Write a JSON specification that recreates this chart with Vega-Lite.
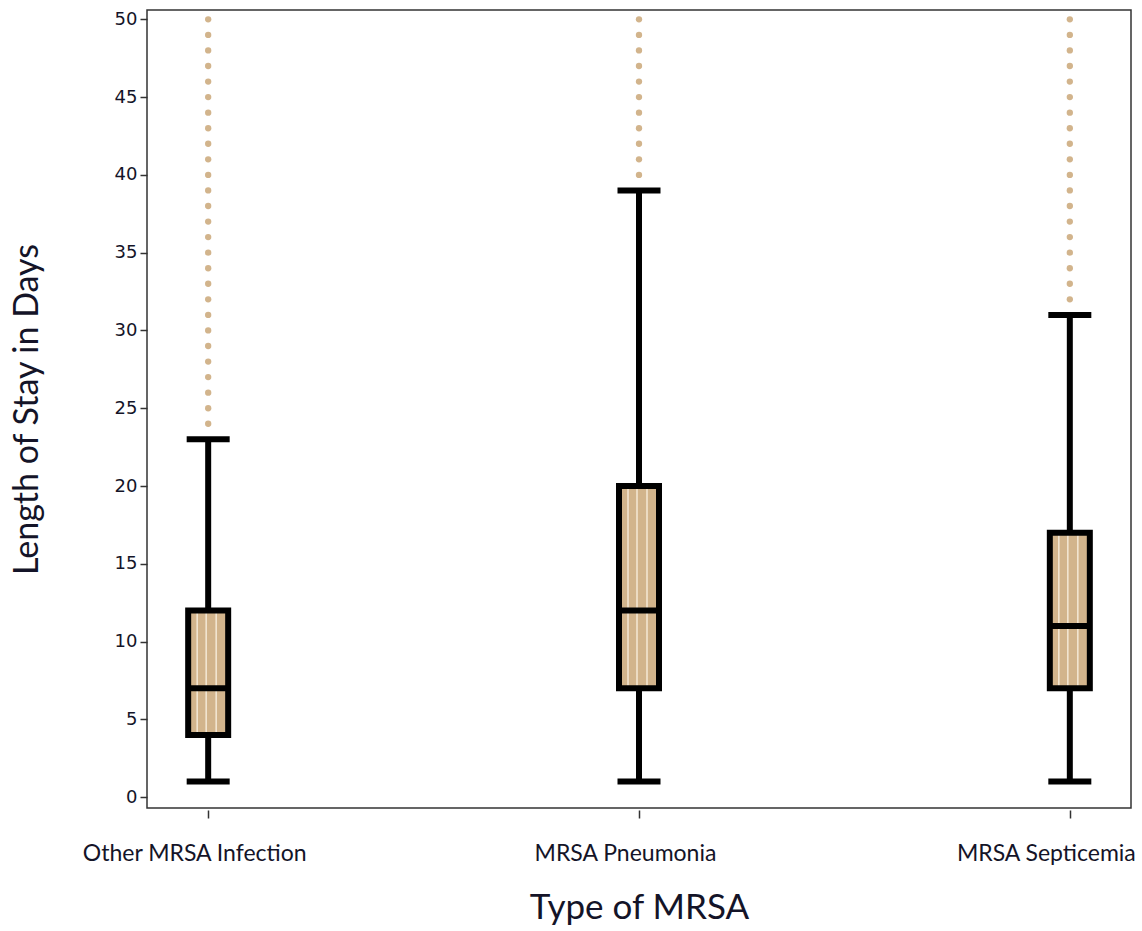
{
  "$schema": "https://vega.github.io/schema/vega-lite/v6.json",
  "autosize": {"type": "none"},
  "width": 984,
  "height": 798,
  "padding": {"left": 147, "top": 10, "right": 11, "bottom": 123},
  "background": "white",
  "config": {
    "view": {"stroke": "#333333", "strokeWidth": 1.5},
    "axis": {"grid": false, "domain": false, "tickColor": "#333333", "tickWidth": 1.5, "labelColor": "#141428", "titleColor": "#141428", "titleFontWeight": "normal"}
  },
  "datasets": {
    "boxes": [
      {"type": "Other MRSA Infection", "min": 1, "q1": 4, "median": 7, "q3": 12, "max": 23},
      {"type": "MRSA Pneumonia", "min": 1, "q1": 7, "median": 12, "q3": 20, "max": 39},
      {"type": "MRSA Septicemia", "min": 1, "q1": 7, "median": 11, "q3": 17, "max": 31}
    ],
    "outliers": [
      {"type": "Other MRSA Infection", "los": 24}, {"type": "Other MRSA Infection", "los": 25}, {"type": "Other MRSA Infection", "los": 26},
      {"type": "Other MRSA Infection", "los": 27}, {"type": "Other MRSA Infection", "los": 28}, {"type": "Other MRSA Infection", "los": 29},
      {"type": "Other MRSA Infection", "los": 30}, {"type": "Other MRSA Infection", "los": 31}, {"type": "Other MRSA Infection", "los": 32},
      {"type": "Other MRSA Infection", "los": 33}, {"type": "Other MRSA Infection", "los": 34}, {"type": "Other MRSA Infection", "los": 35},
      {"type": "Other MRSA Infection", "los": 36}, {"type": "Other MRSA Infection", "los": 37}, {"type": "Other MRSA Infection", "los": 38},
      {"type": "Other MRSA Infection", "los": 39}, {"type": "Other MRSA Infection", "los": 40}, {"type": "Other MRSA Infection", "los": 41},
      {"type": "Other MRSA Infection", "los": 42}, {"type": "Other MRSA Infection", "los": 43}, {"type": "Other MRSA Infection", "los": 44},
      {"type": "Other MRSA Infection", "los": 45}, {"type": "Other MRSA Infection", "los": 46}, {"type": "Other MRSA Infection", "los": 47},
      {"type": "Other MRSA Infection", "los": 48}, {"type": "Other MRSA Infection", "los": 49}, {"type": "Other MRSA Infection", "los": 50},
      {"type": "MRSA Pneumonia", "los": 40}, {"type": "MRSA Pneumonia", "los": 41}, {"type": "MRSA Pneumonia", "los": 42},
      {"type": "MRSA Pneumonia", "los": 43}, {"type": "MRSA Pneumonia", "los": 44}, {"type": "MRSA Pneumonia", "los": 45},
      {"type": "MRSA Pneumonia", "los": 46}, {"type": "MRSA Pneumonia", "los": 47}, {"type": "MRSA Pneumonia", "los": 48},
      {"type": "MRSA Pneumonia", "los": 49}, {"type": "MRSA Pneumonia", "los": 50},
      {"type": "MRSA Septicemia", "los": 32}, {"type": "MRSA Septicemia", "los": 33}, {"type": "MRSA Septicemia", "los": 34},
      {"type": "MRSA Septicemia", "los": 35}, {"type": "MRSA Septicemia", "los": 36}, {"type": "MRSA Septicemia", "los": 37},
      {"type": "MRSA Septicemia", "los": 38}, {"type": "MRSA Septicemia", "los": 39}, {"type": "MRSA Septicemia", "los": 40},
      {"type": "MRSA Septicemia", "los": 41}, {"type": "MRSA Septicemia", "los": 42}, {"type": "MRSA Septicemia", "los": 43},
      {"type": "MRSA Septicemia", "los": 44}, {"type": "MRSA Septicemia", "los": 45}, {"type": "MRSA Septicemia", "los": 46},
      {"type": "MRSA Septicemia", "los": 47}, {"type": "MRSA Septicemia", "los": 48}, {"type": "MRSA Septicemia", "los": 49},
      {"type": "MRSA Septicemia", "los": 50}
    ]
  },
  "encoding": {
    "x": {
      "field": "type", "type": "nominal",
      "sort": ["Other MRSA Infection", "MRSA Pneumonia", "MRSA Septicemia"],
      "scale": {"type": "point", "padding": 0.142},
      "axis": {
        "title": "Type of MRSA", "titleFont": "Lato", "titleFontSize": 35, "titlePadding": 25,
        "labelFont": "Lato", "labelFontSize": 23, "labelAngle": 0, "labelPadding": 24,
        "labelLimit": 0, "labelBound": false, "labelOverlap": false,
        "labelOffset": {"condition": {"test": "datum.value === 'MRSA Septicemia'", "value": -24}, "value": -14},
        "tickSize": 8, "offset": 2
      }
    }
  },
  "layer": [
    {
      "data": {"name": "outliers"},
      "mark": {"type": "circle", "size": 40, "color": "#D2B48C", "opacity": 1},
      "encoding": {
        "y": {
          "field": "los", "type": "quantitative", "title": "Length of Stay in Days",
          "scale": {"domain": [-0.7, 50.6], "nice": false, "zero": false},
          "axis": {
            "values": [0, 2.5, 5, 7.5, 10, 12.5, 15, 17.5, 20, 22.5, 25, 27.5, 30, 32.5, 35, 37.5, 40, 42.5, 45, 47.5, 50],
            "labelExpr": "datum.value % 5 === 0 ? datum.label : ''",
            "tickSize": {"condition": {"test": "datum.value % 5 === 0", "value": 7}, "value": 4},
            "labelFont": "DejaVu Sans", "labelFontSize": 18, "labelPadding": 3,
            "titleFont": "Lato", "titleFontSize": 34, "titlePadding": 70
          }
        }
      }
    },
    {
      "data": {"name": "boxes"},
      "mark": {"type": "rule", "color": "black", "strokeWidth": 6},
      "encoding": {
        "y": {"field": "min", "type": "quantitative", "title": "Length of Stay in Days"},
        "y2": {"field": "max"}
      }
    },
    {
      "data": {"name": "boxes"},
      "mark": {"type": "bar", "size": 40, "color": "#D2B48C"},
      "encoding": {
        "y": {"field": "q1", "type": "quantitative", "title": "Length of Stay in Days"},
        "y2": {"field": "q3"}
      }
    },
    {
      "data": {"name": "boxes"},
      "mark": {"type": "rule", "color": "#F4E8D6", "strokeWidth": 1.5, "xOffset": -11},
      "encoding": {
        "y": {"field": "q1", "type": "quantitative", "title": "Length of Stay in Days"},
        "y2": {"field": "q3"}
      }
    },
    {
      "data": {"name": "boxes"},
      "mark": {"type": "rule", "color": "#F4E8D6", "strokeWidth": 1.5, "xOffset": -2},
      "encoding": {
        "y": {"field": "q1", "type": "quantitative", "title": "Length of Stay in Days"},
        "y2": {"field": "q3"}
      }
    },
    {
      "data": {"name": "boxes"},
      "mark": {"type": "rule", "color": "#F4E8D6", "strokeWidth": 1.5, "xOffset": 8},
      "encoding": {
        "y": {"field": "q1", "type": "quantitative", "title": "Length of Stay in Days"},
        "y2": {"field": "q3"}
      }
    },
    {
      "data": {"name": "boxes"},
      "mark": {"type": "tick", "size": 42, "thickness": 6, "color": "black", "opacity": 1},
      "encoding": {
        "y": {"field": "median", "type": "quantitative", "title": "Length of Stay in Days"}
      }
    },
    {
      "data": {"name": "boxes"},
      "mark": {"type": "bar", "size": 40, "fillOpacity": 0, "stroke": "black", "strokeWidth": 6},
      "encoding": {
        "y": {"field": "q1", "type": "quantitative", "title": "Length of Stay in Days"},
        "y2": {"field": "q3"}
      }
    },
    {
      "data": {"name": "boxes"},
      "mark": {"type": "tick", "size": 43, "thickness": 6, "color": "black", "opacity": 1},
      "encoding": {
        "y": {"field": "min", "type": "quantitative", "title": "Length of Stay in Days"}
      }
    },
    {
      "data": {"name": "boxes"},
      "mark": {"type": "tick", "size": 43, "thickness": 6, "color": "black", "opacity": 1},
      "encoding": {
        "y": {"field": "max", "type": "quantitative", "title": "Length of Stay in Days"}
      }
    }
  ]
}
